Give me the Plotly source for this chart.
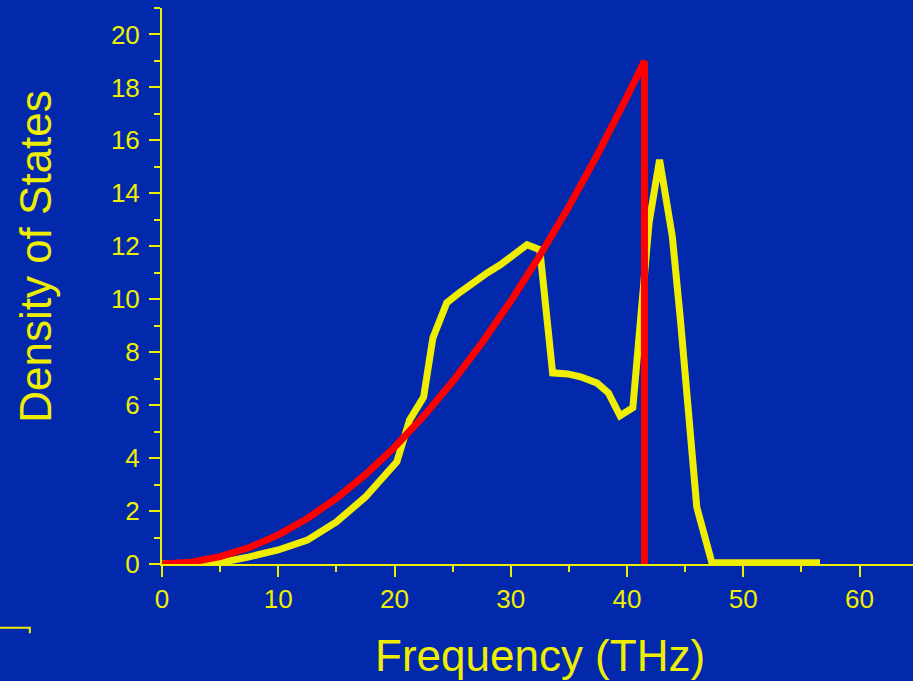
import plotly.graph_objects as go

# --- Data ---
# phonon density of states (yellow)
dos_freq = [0, 3, 5, 7.5, 10, 12.5, 15, 17.5, 20.2, 21.3, 22.5, 23.3, 24.5, 25.6,
            26.7, 28.0, 29.1, 31.4, 32.5, 33.6, 34.9, 36.0, 37.4, 38.4, 39.4, 40.5,
            41.9, 42.8, 43.9, 44.6, 46.0, 47.3, 56.6]
dos_vals = [0, 0, 0.05, 0.27, 0.53, 0.9, 1.59, 2.53, 3.86, 5.44, 6.3, 8.54, 9.87, 10.25,
            10.62, 11.0, 11.3, 12.06, 11.87, 7.22, 7.18, 7.07, 6.84, 6.46, 5.6, 5.9,
            12.9, 15.27, 12.36, 9.2, 2.15, 0.05, 0.05]

# Debye approximation (red)
debye_freq = [0, 2.5, 5, 7.5, 10, 12.5, 15, 17.5, 20, 22.5, 25, 27.5, 30, 32.5,
              35, 37.5, 40, 41.5, 41.5]
debye_vals = [0, 0.07, 0.28, 0.62, 1.1, 1.72, 2.48, 3.38, 4.41, 5.58, 6.89, 8.34,
              9.93, 11.65, 13.5, 15.5, 17.65, 19.0, 0]

BG = '#0229AB'
YEL = '#F0EE00'
RED = '#FF0000'
FONT = 'Liberation Sans, Arial, sans-serif'

fig = go.Figure()

fig.add_trace(go.Scatter(
    x=dos_freq, y=dos_vals, mode='lines',
    line=dict(color=YEL, width=7), showlegend=False
))

fig.add_trace(go.Scatter(
    x=debye_freq, y=debye_vals, mode='lines',
    line=dict(color=RED, width=7), showlegend=False
))

# --- Layout ---
fig.update_layout(
    width=913, height=681,
    margin=dict(l=162, r=0, t=8, b=117),
    plot_bgcolor=BG, paper_bgcolor=BG,
    font=dict(family=FONT, color=YEL, size=26),
    showlegend=False,
)

fig.update_xaxes(
    range=[0, 64.6], tick0=0, dtick=10,
    showgrid=False, zeroline=False,
    showline=True, linecolor=YEL, linewidth=2,
    ticks='outside', ticklen=11, tickwidth=2, tickcolor=YEL,
    tickfont=dict(size=26, color=YEL),
    minor=dict(dtick=5, ticks='outside', ticklen=6, tickwidth=2, tickcolor=YEL),
)
fig.update_yaxes(
    range=[0, 21], tick0=0, dtick=2,
    showgrid=False, zeroline=False,
    showline=True, linecolor=YEL, linewidth=2,
    ticks='outside', ticklen=11, tickwidth=2, tickcolor=YEL,
    ticklabelstandoff=4,
    tickfont=dict(size=26, color=YEL),
    minor=dict(dtick=1, ticks='outside', ticklen=6, tickwidth=2, tickcolor=YEL),
)

# axis titles
fig.add_annotation(
    text='Frequency (THz)', xref='paper', yref='paper',
    x=0.503, y=-0.164, xanchor='center', yanchor='middle',
    showarrow=False, font=dict(size=44, color=YEL, family=FONT)
)
fig.add_annotation(
    text='Density of States', xref='paper', yref='paper',
    x=-0.168, y=0.554, xanchor='center', yanchor='middle', textangle=-90,
    showarrow=False, font=dict(size=44, color=YEL, family=FONT)
)

# cropped bracket in the lower-left corner
fig.add_shape(
    type='path', xref='paper', yref='paper',
    path='M -0.3 -0.1146 L -0.176 -0.1146 L -0.176 -0.1245',
    line=dict(color=YEL, width=2)
)

# no page margin so the figure sits at the window's corner
fig.write_html('out.html', config={'displayModeBar': False},
               post_script="document.body.style.margin='0';"
               "document.body.style.background='" + BG + "';")
